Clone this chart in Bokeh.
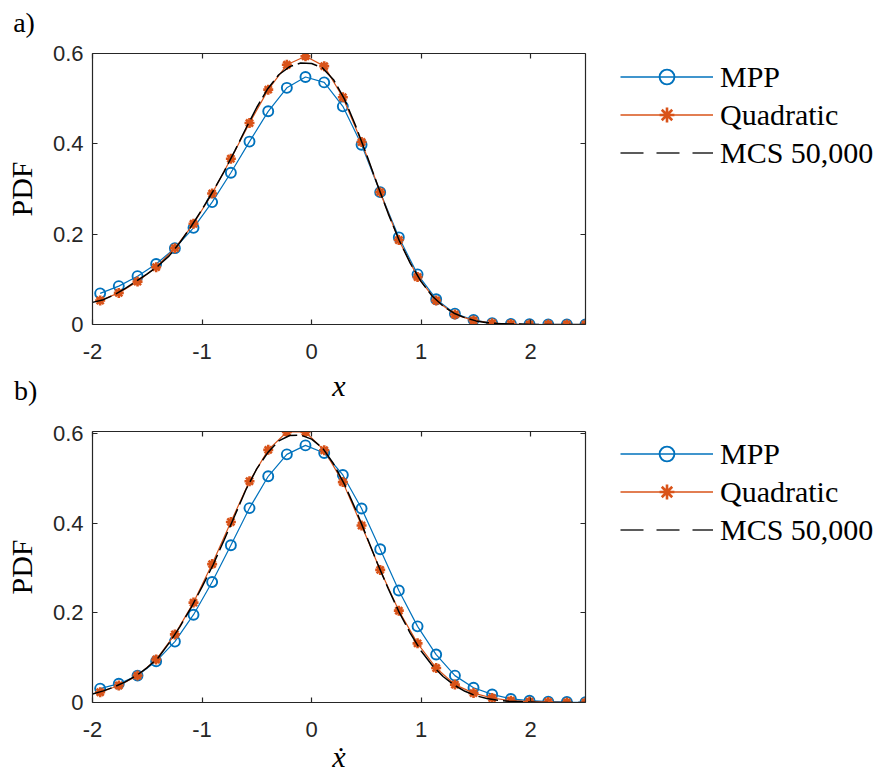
from bokeh.plotting import figure
from bokeh.models import (Range1d, LinearAxis, FixedTicker, Legend, LegendItem, Label)
from bokeh.layouts import column, row
from bokeh.embed import file_html
from bokeh.resources import INLINE

# ---------------- data ----------------
x_markers = [-1.930, -1.760, -1.589, -1.419, -1.248, -1.078, -0.908, -0.737, -0.567,
             -0.396, -0.226, -0.056, 0.115, 0.285, 0.456, 0.626, 0.796, 0.967,
             1.137, 1.308, 1.478, 1.648, 1.819, 1.989, 2.160, 2.330, 2.500]

top_mpp = [0.069, 0.085, 0.107, 0.134, 0.169, 0.214, 0.271, 0.336, 0.405,
           0.472, 0.524, 0.548, 0.536, 0.483, 0.398, 0.293, 0.193, 0.111,
           0.056, 0.024, 0.010, 0.003, 0.001, 0.0005, 0.0, 0.0, 0.0]
top_quad = [0.053, 0.070, 0.095, 0.127, 0.169, 0.223, 0.290, 0.367, 0.446,
            0.520, 0.575, 0.594, 0.572, 0.503, 0.404, 0.293, 0.187, 0.105,
            0.053, 0.022, 0.009, 0.003, 0.001, 0.0, 0.0, 0.0, 0.0]

bot_mpp = [0.031, 0.042, 0.060, 0.092, 0.136, 0.196, 0.269, 0.351, 0.434,
           0.505, 0.554, 0.574, 0.557, 0.508, 0.433, 0.342, 0.250, 0.170,
           0.107, 0.060, 0.033, 0.018, 0.008, 0.004, 0.002, 0.001, 0.0005]
bot_quad = [0.023, 0.038, 0.060, 0.096, 0.152, 0.223, 0.309, 0.403, 0.494,
            0.564, 0.604, 0.604, 0.563, 0.492, 0.395, 0.296, 0.205, 0.132,
            0.077, 0.040, 0.021, 0.010, 0.004, 0.002, 0.001, 0.0, 0.0]

x_mcs = [-2.0, -1.9, -1.8, -1.7, -1.6, -1.5, -1.4, -1.3, -1.2, -1.1,
         -1.0, -0.9, -0.8, -0.7, -0.6, -0.5, -0.4, -0.3, -0.2, -0.1,
         0.0, 0.1, 0.2, 0.3, 0.4, 0.5, 0.6, 0.7, 0.8, 0.9,
         1.0, 1.1, 1.2, 1.3, 1.4, 1.5, 1.6, 1.7, 1.8, 1.9,
         2.0, 2.1, 2.2, 2.3, 2.4, 2.5]
top_mcs = [0.049, 0.055, 0.066, 0.080, 0.096, 0.112, 0.130, 0.152, 0.182, 0.217,
           0.255, 0.295, 0.338, 0.385, 0.434, 0.481, 0.522, 0.553, 0.571, 0.579,
           0.578, 0.568, 0.542, 0.499, 0.441, 0.377, 0.310, 0.245, 0.186, 0.136,
           0.095, 0.063, 0.041, 0.025, 0.015, 0.008, 0.004, 0.002, 0.001, 0.001,
           0.0, 0.0, 0.0, 0.0, 0.0, 0.0]
bot_mcs = [0.019, 0.026, 0.035, 0.046, 0.060, 0.078, 0.100, 0.133, 0.170, 0.212,
           0.258, 0.307, 0.362, 0.418, 0.475, 0.522, 0.558, 0.584, 0.596, 0.597,
           0.588, 0.568, 0.533, 0.487, 0.432, 0.372, 0.311, 0.254, 0.201, 0.155,
           0.115, 0.083, 0.058, 0.039, 0.025, 0.015, 0.009, 0.005, 0.003, 0.002,
           0.001, 0.0, 0.0, 0.0, 0.0, 0.0]

x_ticks = [-2, -1, 0, 1, 2]
x_tick_labels = ["-2", "-1", "0", "1", "2"]
y_ticks = [0, 0.2, 0.4, 0.6]
y_tick_labels = ["0", "0.2", "0.4", "0.6"]
legend_labels = ["MPP", "Quadratic", "MCS 50,000"]
panel_labels = ["a)", "b)"]
x_labels = ["x", "\u1e8b"]
y_label = "PDF"

# ---------------- style ----------------
BLUE = "#0072BD"
ORANGE = "#D95319"
AXC = "#262626"
SERIF = "Liberation Serif"
SANS = "Liberation Sans"


def style_axis(ax, ticks, labels, show):
    ax.ticker = FixedTicker(ticks=ticks)
    ax.axis_line_color = AXC
    ax.axis_line_width = 1.2
    ax.major_tick_line_color = AXC
    ax.major_tick_line_width = 1.2
    ax.major_tick_in = 5
    ax.major_tick_out = 0
    ax.minor_tick_line_color = None
    ax.major_label_text_font = SANS
    if show:
        ax.major_label_text_font_size = "22px"
        ax.major_label_overrides = dict(zip(ticks, labels))
        ax.major_label_text_color = AXC
    else:
        ax.major_label_text_font_size = "0px"
        ax.major_label_text_color = None
        ax.major_label_standoff = 0


def make_panel(mpp, quad, mcs, ymax, btop, bbottom):
    p = figure(width=617, height=btop + 271 + bbottom,
               frame_width=493, frame_height=271,
               x_range=Range1d(-2, 2.5), y_range=Range1d(0, ymax),
               output_backend="svg", toolbar_location=None,
               min_border_left=92, min_border_right=32,
               min_border_top=btop, min_border_bottom=bbottom)
    p.xgrid.visible = False
    p.ygrid.visible = False
    p.outline_line_color = None
    p.background_fill_color = "white"
    p.border_fill_color = "white"

    style_axis(p.xaxis[0], x_ticks, x_tick_labels, True)
    p.xaxis[0].major_label_standoff = 19
    style_axis(p.yaxis[0], y_ticks, y_tick_labels, True)
    p.yaxis[0].major_label_standoff = 9
    p.yaxis[0].axis_label = y_label
    p.yaxis[0].axis_label_text_font = SERIF
    p.yaxis[0].axis_label_text_font_style = "normal"
    p.yaxis[0].axis_label_text_font_size = "30px"
    p.yaxis[0].axis_label_text_color = "black"
    p.yaxis[0].axis_label_standoff = 12

    top_ax = LinearAxis()
    style_axis(top_ax, x_ticks, x_tick_labels, False)
    p.add_layout(top_ax, "above")
    right_ax = LinearAxis()
    style_axis(right_ax, y_ticks, y_tick_labels, False)
    p.add_layout(right_ax, "right")

    p.line(x_markers, mpp, color=BLUE, line_width=1.2)
    p.scatter(x_markers, mpp, marker="circle", size=10, line_color=BLUE,
              fill_color=None, line_width=1.9)
    p.line(x_markers, quad, color=ORANGE, line_width=1.2)
    p.scatter(x_markers, quad, marker="asterisk", size=10, line_color=ORANGE,
              line_width=2.6)
    p.line(x_mcs, mcs, color="black", line_width=1.5, line_dash="20 5")
    return p


def make_legend(mpp, quad, mcs, height, loc_y):
    # a legend-only canvas to the right of the panel; its renderers use a y range
    # far away from the data so that only their legend samples are visible
    lf = figure(width=271, height=height, x_range=Range1d(-2, 2.5), y_range=Range1d(0, 1),
                output_backend="svg", toolbar_location=None,
                x_axis_location=None, y_axis_location=None, min_border=0)
    lf.extra_y_ranges = {"hidden": Range1d(10, 11)}
    lf.xgrid.visible = False
    lf.ygrid.visible = False
    lf.outline_line_color = None
    l1 = lf.line(x_markers, mpp, color=BLUE, line_width=1.4, y_range_name="hidden")
    s1 = lf.scatter(x_markers, mpp, marker="circle", size=6, line_color=BLUE,
                    fill_color=None, line_width=1.9, y_range_name="hidden")
    l2 = lf.line(x_markers, quad, color=ORANGE, line_width=1.4, y_range_name="hidden")
    s2 = lf.scatter(x_markers, quad, marker="asterisk", size=6, line_color=ORANGE,
                    line_width=2.6, y_range_name="hidden")
    l3 = lf.line(x_mcs, mcs, color="#262626", line_width=1.5, line_dash="23 13",
                 y_range_name="hidden")
    legend = Legend(items=[LegendItem(label=legend_labels[0], renderers=[l1, s1]),
                           LegendItem(label=legend_labels[1], renderers=[l2, s2]),
                           LegendItem(label=legend_labels[2], renderers=[l3])],
                    location=(3, loc_y), orientation="vertical",
                    padding=0, margin=0, spacing=1,
                    glyph_width=93, glyph_height=37, label_height=37,
                    label_standoff=7, border_line_color=None,
                    background_fill_alpha=0,
                    label_text_font=SERIF, label_text_font_size="30px",
                    label_text_color="black")
    lf.add_layout(legend)
    return lf


# top canvas: 406 px tall, bottom canvas: 366 px tall (frames at 53..324 and 431..702)
p1 = make_panel(top_mpp, top_quad, top_mcs, 0.6, 53, 82)
p2 = make_panel(bot_mpp, bot_quad, bot_mcs, 0.605, 25, 70)
lf1 = make_legend(top_mpp, top_quad, top_mcs, 406, 235)
lf2 = make_legend(bot_mpp, bot_quad, bot_mcs, 366, 224)

# panel labels and x labels (annotations kept in the side panels, placed in data units)
p1.add_layout(Label(x=-2.724, y=0.6686, text=panel_labels[0], text_font=SERIF,
                    text_font_size="28px", text_align="left", text_baseline="alphabetic",
                    text_color="black"), "above")
p1.add_layout(Label(x=0.25, y=-0.1350, text=x_labels[0], text_font=SERIF,
                    text_font_style="italic", text_font_size="30px", text_align="center",
                    text_baseline="alphabetic", text_color="black"), "right")
p1.add_layout(Label(x=-2.717, y=-0.1461, text=panel_labels[1], text_font=SERIF,
                    text_font_size="28px", text_align="left", text_baseline="alphabetic",
                    text_color="black"), "below")
p2.add_layout(Label(x=0.25, y=-0.1206, text=x_labels[1], text_font=SERIF,
                    text_font_style="italic", text_font_size="30px", text_align="center",
                    text_baseline="alphabetic", text_color="black"), "right")

layout = row(column(p1, p2, spacing=0), column(lf1, lf2, spacing=0), spacing=0)
open("out.html", "w").write(file_html(layout, INLINE))
